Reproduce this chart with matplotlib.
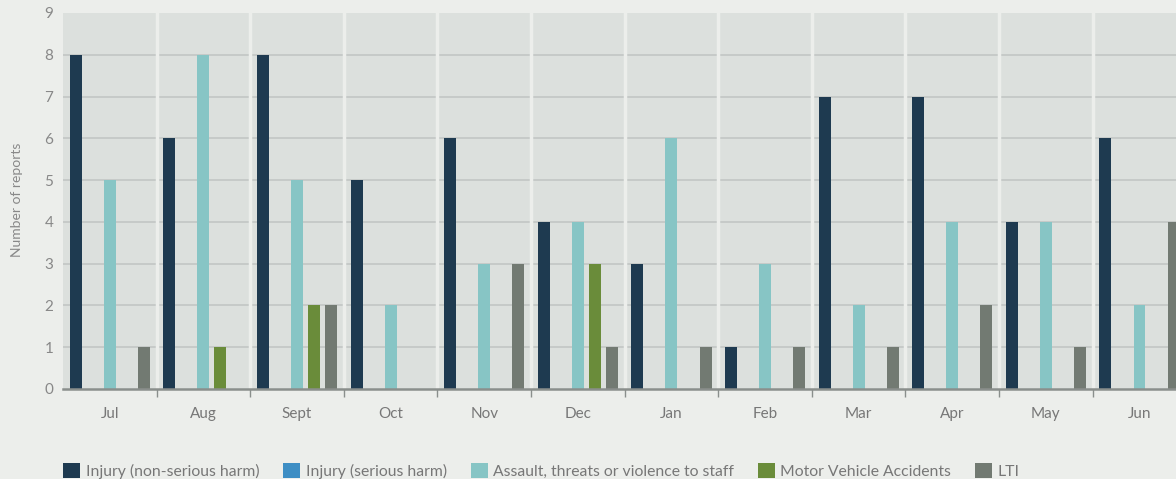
import numpy as np
import matplotlib.pyplot as plt

months = ['Jul', 'Aug', 'Sept', 'Oct', 'Nov', 'Dec', 'Jan', 'Feb', 'Mar', 'Apr', 'May', 'Jun']
series_names = ['Injury (non-serious harm)', 'Injury (serious harm)',
                'Assault, threats or violence to staff', 'Motor Vehicle Accidents', 'LTI']
injury_non_serious = [8, 6, 8, 5, 6, 4, 3, 1, 7, 7, 4, 6]
injury_serious = [0, 0, 0, 0, 0, 0, 0, 0, 0, 0, 0, 0]
assault = [5, 8, 5, 2, 3, 4, 6, 3, 2, 4, 4, 2]
motor_vehicle = [0, 1, 2, 0, 0, 3, 0, 0, 0, 0, 0, 0]
lti = [1, 0, 2, 0, 3, 1, 1, 1, 1, 2, 1, 4]

colors = ['#1e3a50', '#3e8ec4', '#87c5c5', '#6a8c3a', '#727a72']
all_series = [injury_non_serious, injury_serious, assault, motor_vehicle, lti]

plt.rcParams['font.family'] = ['Lato', 'DejaVu Sans']

fig = plt.figure(figsize=(11.76, 4.79), dpi=100, facecolor='#eceeeb')
ax = fig.add_axes([63/1176, 90/479, (1176-63)/1176, 376/479])
ax.set_facecolor('#dce0dd')

x = np.arange(len(months))
step = 0.182
width = 0.128
for i, (vals, name, c) in enumerate(zip(all_series, series_names, colors)):
    ax.bar(x + (i - 2) * step, vals, width, color=c, label=name, zorder=3)

# grid lines
for y in range(1, 9):
    ax.axhline(y, color='#c6cac8', linewidth=1.4, zorder=1)
for b in x[:-1] + 0.5:
    ax.axvline(b, color='#eceeeb', linewidth=2.5, zorder=2)

ax.set_xlim(-0.5, 11.39)
ax.set_ylim(0, 9)
ax.set_yticks(range(10))
ax.set_xticks(x)
ax.set_xticklabels(months)
ax.set_xticks(x[:-1] + 0.5, minor=True)
ax.tick_params(axis='x', which='major', length=0, pad=13, labelsize=11, colors='#777777')
ax.tick_params(axis='x', which='minor', length=6, width=1, color='#8a8f8c', direction='out')
ax.tick_params(axis='y', length=0, pad=7, labelsize=11, colors='#888888')
for s in ['top', 'right', 'left']:
    ax.spines[s].set_visible(False)
ax.spines['bottom'].set_color('#8a8f8c')
ax.spines['bottom'].set_linewidth(1.8)
ax.spines['bottom'].set_zorder(4)

fig.text(17/1176, 1 - 200/479, 'Number of reports', rotation=90,
         ha='center', va='center', fontsize=10, color='#888888')

ax.legend(loc='upper left', bbox_to_anchor=(-0.0055, -0.18), ncol=5, frameon=False,
          fontsize=11.3, labelcolor='#777777', handlelength=1.1, handleheight=1.1,
          handletextpad=0.35, columnspacing=1.5, borderaxespad=0)

plt.savefig('out.png', dpi=100, facecolor=fig.get_facecolor())
